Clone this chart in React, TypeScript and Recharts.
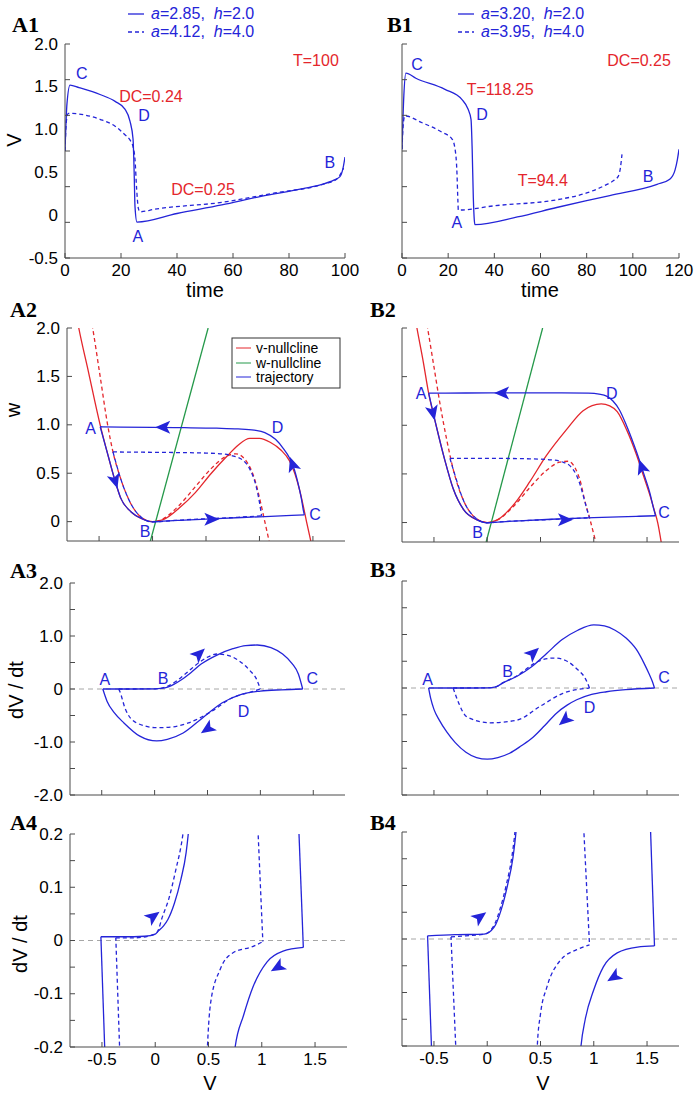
import React from "react";
import { ComposedChart, Line, Scatter, XAxis, YAxis, ReferenceLine } from "recharts";

const BLUE = "#2424d8";
const RED = "#e4262c";
const GREEN = "#25994a";
const FRAME = "#4a4a4a";
const FONT = "'Liberation Sans', Arial, Helvetica, sans-serif";

type Pt = { x: number; y: number };
type Lab = { v: number; t: string };
const pts = (rows: number[][]): Pt[] => rows.map(([x, y]) => ({ x, y }));

// ---------- ticks ----------
const timeTicksA = [0, 20, 40, 60, 80, 100];
const timeTicksB = [0, 20, 40, 60, 80, 100, 120];
const vLabels1: Lab[] = [
  { v: -0.5, t: "-0.5" }, { v: 0, t: "0" }, { v: 0.5, t: "0.5" },
  { v: 1, t: "1.0" }, { v: 1.5, t: "1.5" }, { v: 2, t: "2.0" },
];
const vMarks1 = [-0.5, -0.0833, 0.3333, 0.75, 1.1667, 1.5833, 2];
const phaseTicks = [-0.5, 0, 0.5, 1, 1.5];
const phaseLabels: Lab[] = [
  { v: -0.5, t: "-0.5" }, { v: 0, t: "0" }, { v: 0.5, t: "0.5" }, { v: 1, t: "1" }, { v: 1.5, t: "1.5" },
];
const wTicks = [0, 0.5, 1, 1.5, 2];
const wLabels: Lab[] = [
  { v: 0, t: "0" }, { v: 0.5, t: "0.5" }, { v: 1, t: "1.0" }, { v: 1.5, t: "1.5" }, { v: 2, t: "2.0" },
];
const dv3Ticks = [-2, -1.5, -1, -0.5, 0, 0.5, 1, 1.5, 2];
const dv3Labels: Lab[] = [
  { v: -2, t: "-2.0" }, { v: -1, t: "-1.0" }, { v: 0, t: "0" }, { v: 1, t: "1.0" }, { v: 2, t: "2.0" },
];
const dv4Ticks = [-0.2, -0.15, -0.1, -0.05, 0, 0.05, 0.1, 0.15, 0.2];
const dv4Labels: Lab[] = [
  { v: -0.2, t: "-0.2" }, { v: -0.1, t: "-0.1" }, { v: 0, t: "0" }, { v: 0.1, t: "0.1" }, { v: 0.2, t: "0.2" },
];

// ---------- A1 / B1 : V(t) ----------
const a1Solid = pts([[0,0.75],[0.7,1.3],[1.8,1.52],[5,1.49],[12.5,1.41],[17.9,1.33],[21.4,1.24],[23.2,1.1],[24.3,0.89],[24.7,0.5],[25.0,0.1],[25.7,-0.08],[40,0.02],[56,0.12],[70,0.22],[85,0.31],[91.8,0.36],[96,0.41],[98.2,0.45],[99.3,0.55],[100,0.68]]);
const a1Dash = pts([[0,0.75],[0.5,1.1],[1.2,1.19],[12.5,1.12],[17.9,1.04],[21.4,0.94],[23.2,0.88],[24.3,0.8],[25,0.65],[25.6,0.3],[26.2,0.08],[26.8,0.04],[32,0.07],[56,0.15],[75,0.26],[92,0.36],[97,0.42],[99.5,0.55]]);
const b1Solid = pts([[0,0.77],[0.8,1.4],[1.7,1.66],[6,1.6],[18.6,1.47],[26,1.35],[28.6,1.24],[29.9,1.12],[30.4,0.77],[30.9,0.2],[31.3,-0.05],[31.6,-0.11],[50,-0.02],[67,0.09],[90,0.23],[110.5,0.36],[116,0.42],[118.3,0.53],[119.3,0.65],[120,0.77]]);
const b1Dash = pts([[0,0.77],[0.5,1.05],[1.2,1.16],[8.7,1.08],[17.3,0.97],[21.7,0.89],[23.0,0.77],[23.8,0.5],[24.2,0.18],[24.4,0.06],[40,0.11],[67,0.18],[80,0.26],[88.8,0.36],[92,0.41],[93.6,0.45],[94.6,0.55],[95.3,0.71]]);

const a1Letters = [{ x: 6, y: 1.66, t: "C" }, { x: 28.2, y: 1.17, t: "D" }, { x: 26, y: -0.25, t: "A" }, { x: 94.6, y: 0.61, t: "B" }];
const a1Notes = [{ x: 89.6, y: 1.81, t: "T=100" }, { x: 30.7, y: 1.39, t: "DC=0.24" }, { x: 49.3, y: 0.3, t: "DC=0.25" }];
const b1Letters = [{ x: 6.5, y: 1.76, t: "C" }, { x: 34.7, y: 1.18, t: "D" }, { x: 23.8, y: -0.08, t: "A" }, { x: 106.6, y: 0.45, t: "B" }];
const b1Notes = [{ x: 102.7, y: 1.81, t: "DC=0.25" }, { x: 42.5, y: 1.47, t: "T=118.25" }, { x: 61, y: 0.41, t: "T=94.4" }];

// ---------- A2 / B2 : phase plane (v, w) ----------
const a2RedSolid = pts([[-0.74,2.3],[-0.69,2.0],[-0.6,1.55],[-0.49,1.0],[-0.42,0.7],[-0.35,0.42],[-0.3,0.25],[-0.2,0.1],[-0.1,0.03],[0,0],[0.1,0.02],[0.26,0.15],[0.4,0.3],[0.55,0.5],[0.7,0.68],[0.8,0.79],[0.91,0.86],[1.0,0.86],[1.1,0.82],[1.2,0.74],[1.28,0.63],[1.33,0.5],[1.37,0.35],[1.41,0.16],[1.44,0.0],[1.49,-0.25]]);
const a2RedDash = pts([[-0.6,2.25],[-0.56,2.0],[-0.49,1.5],[-0.42,1.0],[-0.37,0.72],[-0.3,0.45],[-0.2,0.18],[-0.1,0.04],[0,0],[0.1,0.03],[0.25,0.17],[0.4,0.36],[0.55,0.55],[0.68,0.67],[0.78,0.7],[0.88,0.62],[0.96,0.42],[1.01,0.2],[1.05,0.0],[1.1,-0.25]]);
const a2Green = pts([[-0.02,-0.2],[0.52,2.0]]);
const a2TrajTop = pts([[-0.49,0.98],[-0.3,0.977],[0,0.973],[0.3,0.97],[0.6,0.965],[0.8,0.958],[0.95,0.945],[1.05,0.92],[1.15,0.85],[1.22,0.76],[1.28,0.66],[1.32,0.56],[1.36,0.4],[1.39,0.25],[1.41,0.12],[1.42,0.07]]);
const a2TrajBottom = pts([[-0.49,0.98],[-0.42,0.7],[-0.35,0.42],[-0.3,0.25],[-0.2,0.1],[-0.1,0.03],[0,-0.003],[0.1,0.005],[0.3,0.016],[0.6,0.032],[1.0,0.05],[1.3,0.064],[1.42,0.07]]);
const a2DashTop = pts([[-0.37,0.72],[-0.2,0.718],[0.2,0.714],[0.5,0.708],[0.65,0.7],[0.75,0.68],[0.85,0.63],[0.92,0.52],[0.97,0.36],[1.0,0.2],[1.02,0.06]]);
const a2DashBottom = pts([[-0.37,0.72],[-0.3,0.45],[-0.2,0.18],[-0.1,0.04],[0,-0.003],[0.2,0.012],[0.5,0.03],[0.8,0.045],[1.02,0.06]]);
const a2Arrows = [{ x: -0.35, y: 0.42, angle: 73 }, { x: 0.1, y: 0.975, angle: 180 }, { x: 0.55, y: 0.025, angle: 0 }, { x: 1.31, y: 0.59, angle: -109 }];
const a2Letters = [{ x: -0.58, y: 0.96, t: "A" }, { x: 1.17, y: 0.97, t: "D" }, { x: -0.07, y: -0.1, t: "B" }, { x: 1.52, y: 0.07, t: "C" }];

const b2RedSolid = pts([[-0.7,2.25],[-0.66,2.0],[-0.6,1.65],[-0.55,1.33],[-0.48,1.0],[-0.4,0.65],[-0.32,0.35],[-0.22,0.13],[-0.1,0.03],[0,0],[0.1,0.03],[0.26,0.2],[0.4,0.42],[0.55,0.68],[0.74,0.95],[0.9,1.15],[1.07,1.22],[1.15,1.2],[1.22,1.14],[1.31,0.95],[1.4,0.7],[1.47,0.47],[1.53,0.27],[1.57,0.12],[1.6,0.0],[1.64,-0.25]]);
const b2RedDash = pts([[-0.6,2.25],[-0.56,2.0],[-0.5,1.6],[-0.44,1.2],[-0.38,0.85],[-0.32,0.55],[-0.22,0.22],[-0.1,0.04],[0,0],[0.1,0.03],[0.25,0.17],[0.4,0.36],[0.55,0.53],[0.68,0.62],[0.76,0.63],[0.83,0.55],[0.88,0.4],[0.91,0.25],[0.96,0.05],[1.03,-0.25]]);
const b2Green = pts([[-0.01,-0.2],[0.52,2.0]]);
const b2TrajTop = pts([[-0.55,1.33],[-0.2,1.332],[0.3,1.333],[0.7,1.333],[0.95,1.33],[1.05,1.32],[1.12,1.3],[1.18,1.25],[1.24,1.16],[1.31,0.99],[1.4,0.73],[1.47,0.5],[1.53,0.29],[1.56,0.15],[1.58,0.07]]);
const b2TrajBottom = pts([[-0.55,1.33],[-0.48,1.0],[-0.4,0.65],[-0.32,0.35],[-0.22,0.13],[-0.1,0.03],[0,-0.003],[0.1,0.005],[0.3,0.018],[0.6,0.034],[1.0,0.05],[1.4,0.064],[1.58,0.07]]);
const b2DashTop = pts([[-0.35,0.66],[0,0.66],[0.4,0.655],[0.6,0.645],[0.7,0.625],[0.78,0.58],[0.84,0.48],[0.88,0.36],[0.91,0.24],[0.94,0.12],[0.96,0.05]]);
const b2DashBottom = pts([[-0.35,0.66],[-0.32,0.55],[-0.22,0.22],[-0.1,0.04],[0,-0.003],[0.1,0.006],[0.4,0.022],[0.7,0.036],[0.96,0.05]]);
const b2Arrows = [{ x: -0.51, y: 1.13, angle: 77 }, { x: 0.14, y: 1.333, angle: 180 }, { x: 0.73, y: 0.03, angle: 0 }, { x: 1.45, y: 0.57, angle: -109 }];
const b2Letters = [{ x: -0.62, y: 1.33, t: "A" }, { x: 1.17, y: 1.33, t: "D" }, { x: -0.09, y: -0.1, t: "B" }, { x: 1.66, y: 0.1, t: "C" }];

// ---------- A3 / B3 : dV/dt vs V ----------
const a3SolidTop = pts([[-0.49,0],[-0.2,0],[0,0.002],[0.06,0.01],[0.13,0.04],[0.25,0.17],[0.35,0.32],[0.44,0.47],[0.6,0.65],[0.74,0.76],[0.86,0.82],[0.97,0.83],[1.1,0.78],[1.21,0.66],[1.3,0.48],[1.36,0.28],[1.4,0]]);
const a3SolidBottom = pts([[-0.49,0],[-0.45,-0.23],[-0.38,-0.45],[-0.29,-0.64],[-0.14,-0.89],[0.02,-0.98],[0.12,-0.95],[0.27,-0.83],[0.45,-0.55],[0.64,-0.26],[0.82,-0.1],[1.0,-0.04],[1.2,-0.015],[1.4,0]]);
const a3DashTop = pts([[-0.34,0],[0,0.002],[0.06,0.012],[0.12,0.05],[0.2,0.14],[0.3,0.3],[0.42,0.5],[0.5,0.6],[0.59,0.66],[0.7,0.63],[0.8,0.53],[0.9,0.35],[0.96,0.2],[1.0,0]]);
const a3DashBottom = pts([[-0.34,0],[-0.33,-0.04],[-0.28,-0.36],[-0.17,-0.64],[0.02,-0.73],[0.15,-0.72],[0.32,-0.64],[0.54,-0.42],[0.73,-0.17],[0.94,-0.04],[1.0,0]]);
const a3Arrows = [{ x: 0.42, y: 0.66, angle: -43 }, { x: 0.5, y: -0.75, angle: 146 }];
const a3Letters = [{ x: -0.47, y: 0.17, t: "A" }, { x: 0.08, y: 0.2, t: "B" }, { x: 1.49, y: 0.19, t: "C" }, { x: 0.84, y: -0.42, t: "D" }];

const b3SolidTop = pts([[-0.55,0],[-0.2,0],[0,0.002],[0.08,0.02],[0.15,0.1],[0.28,0.22],[0.42,0.4],[0.56,0.65],[0.7,0.9],[0.85,1.08],[1.0,1.18],[1.1,1.16],[1.2,1.08],[1.3,0.94],[1.4,0.72],[1.47,0.47],[1.52,0.26],[1.55,0.12],[1.57,0]]);
const b3SolidBottom = pts([[-0.55,0],[-0.53,-0.2],[-0.5,-0.4],[-0.45,-0.6],[-0.38,-0.82],[-0.3,-1.02],[-0.2,-1.2],[-0.1,-1.3],[0,-1.33],[0.1,-1.3],[0.21,-1.22],[0.32,-1.08],[0.43,-0.92],[0.54,-0.7],[0.65,-0.47],[0.75,-0.32],[0.84,-0.22],[0.98,-0.12],[1.12,-0.07],[1.3,-0.03],[1.57,0]]);
const b3DashTop = pts([[-0.32,0],[0,0.002],[0.08,0.02],[0.15,0.1],[0.28,0.23],[0.45,0.47],[0.52,0.53],[0.63,0.56],[0.75,0.5],[0.85,0.34],[0.92,0.18],[0.96,0]]);
const b3DashBottom = pts([[-0.32,0],[-0.28,-0.22],[-0.19,-0.54],[0.03,-0.65],[0.28,-0.6],[0.49,-0.35],[0.71,-0.1],[0.96,0]]);
const b3Arrows = [{ x: 0.43, y: 0.65, angle: -42 }, { x: 0.73, y: -0.6, angle: 140 }];
const b3Letters = [{ x: -0.56, y: 0.15, t: "A" }, { x: 0.19, y: 0.3, t: "B" }, { x: 1.66, y: 0.19, t: "C" }, { x: 0.96, y: -0.37, t: "D" }];

// ---------- A4 / B4 : close-up near dV/dt = 0 ----------
const a4SolidLeft = pts([[-0.466,-0.25],[-0.51,0.007]]);
const a4SolidUp = pts([[-0.51,0.007],[-0.3,0.007],[-0.1,0.008],[0,0.012],[0.03,0.018],[0.08,0.028],[0.12,0.04],[0.18,0.07],[0.24,0.114],[0.29,0.165],[0.31,0.2],[0.33,0.25]]);
const a4SolidRight = pts([[1.34,0.25],[1.39,-0.013]]);
const a4SolidDown = pts([[0.72,-0.25],[0.75,-0.2],[0.83,-0.14],[0.92,-0.086],[1.05,-0.04],[1.2,-0.02],[1.39,-0.013]]);
const a4DashLeft = pts([[-0.326,-0.25],[-0.37,0.005]]);
const a4DashUp = pts([[-0.37,0.005],[-0.2,0.005],[0,0.012],[0.03,0.02],[0.06,0.04],[0.13,0.08],[0.19,0.13],[0.26,0.2],[0.29,0.25]]);
const a4DashRight = pts([[0.955,0.25],[1.01,-0.002]]);
const a4DashDown = pts([[0.48,-0.25],[0.49,-0.2],[0.52,-0.117],[0.61,-0.054],[0.73,-0.023],[0.92,-0.011],[1.01,-0.002]]);
const a4Arrows = [{ x: -0.02, y: 0.045, angle: -36 }, { x: 1.15, y: -0.05, angle: 150 }];

const b4SolidLeft = pts([[-0.515,-0.25],[-0.56,0.006]]);
const b4SolidUp = pts([[-0.56,0.006],[-0.3,0.008],[-0.03,0.009],[0.065,0.022],[0.13,0.054],[0.19,0.1],[0.24,0.15],[0.27,0.2],[0.29,0.25]]);
const b4SolidRight = pts([[1.525,0.25],[1.57,-0.013]]);
const b4SolidDown = pts([[0.86,-0.25],[0.88,-0.2],[0.92,-0.15],[1.0,-0.095],[1.09,-0.052],[1.22,-0.026],[1.41,-0.015],[1.57,-0.013]]);
const b4DashLeft = pts([[-0.285,-0.25],[-0.34,0.004]]);
const b4DashUp = pts([[-0.34,0.004],[-0.2,0.006],[-0.03,0.009],[0.06,0.024],[0.12,0.056],[0.18,0.102],[0.23,0.152],[0.26,0.2],[0.28,0.25]]);
const b4DashRight = pts([[0.895,0.25],[0.96,-0.011]]);
const b4DashDown = pts([[0.46,-0.25],[0.47,-0.2],[0.5,-0.14],[0.56,-0.09],[0.69,-0.039],[0.84,-0.02],[0.96,-0.011]]);
const b4Arrows = [{ x: -0.07, y: 0.041, angle: -36 }, { x: 1.19, y: -0.071, angle: 148 }];

// ---------- rendering helpers ----------
const near = (list: number[], v: number) => list.some((t) => Math.abs(t - v) < 1e-6);
const labelOf = (list: Lab[] | undefined, v: number) =>
  list ? list.find((l) => Math.abs(l.v - v) < 1e-6)?.t : undefined;

// MATLAB-like frame: tick marks point inward on every side
function tickRenderer(side: string, marks: number[], labels?: Lab[]) {
  return (props: any) => {
    const { x, y, payload } = props;
    const v = payload.value;
    const m = near(marks, v);
    const t = labelOf(labels, v);
    const L = 5;
    let ln: any = null;
    let tx: any = null;
    if (side === "bottom") {
      if (m) ln = <line x1={x} y1={y} x2={x} y2={y - L} stroke={FRAME} />;
      if (t) tx = <text x={x} y={y + 12} textAnchor="middle" dominantBaseline="central">{t}</text>;
    } else if (side === "top") {
      if (m) ln = <line x1={x} y1={y} x2={x} y2={y + L} stroke={FRAME} />;
    } else if (side === "left") {
      if (m) ln = <line x1={x} y1={y} x2={x + L} y2={y} stroke={FRAME} />;
      if (t) tx = <text x={x - 7} y={y} textAnchor="end" dominantBaseline="central">{t}</text>;
    } else {
      if (m) ln = <line x1={x} y1={y} x2={x - L} y2={y} stroke={FRAME} />;
    }
    return (
      <g fontFamily={FONT} fontSize={17} fill="#000">
        {ln}
        {tx}
      </g>
    );
  };
}

const arrowShape = (p: any) => (
  <polygon
    points="8,0 -7,-6.5 -3.5,0 -7,6.5"
    transform={`translate(${p.cx},${p.cy}) rotate(${p.payload.angle})`}
    fill={BLUE}
  />
);
const textShape = (color: string) => (p: any) => (
  <text x={p.cx} y={p.cy} textAnchor="middle" dominantBaseline="central" fill={color} fontFamily={FONT} fontSize={16}>
    {p.payload.t}
  </text>
);

type Series = { data: Pt[]; color: string; dashed?: boolean };
interface PanelProps {
  left: number; top: number; width: number; height: number;
  xDomain: [number, number]; yDomain: [number, number];
  xMarks: number[]; xLabels?: Lab[];
  yMarks: number[]; yLabels?: Lab[];
  series: Series[];
  arrows?: any[]; letters?: any[]; notes?: any[];
  zero?: boolean;
}

function Panel(p: PanelProps) {
  const ML = 50, MB = 30, MT = 14, MR = 22;
  const union = (a: number[], b?: Lab[]) =>
    Array.from(new Set([...a, ...(b ? b.map((l) => l.v) : [])])).sort((m, n) => m - n);
  return (
    <div style={{ position: "absolute", left: p.left - ML, top: p.top - MT }}>
      <ComposedChart
        width={p.width + ML + MR}
        height={p.height + MT + MB}
        margin={{ top: MT, right: MR, bottom: 0, left: 0 }}
      >
        <XAxis dataKey="x" type="number" domain={p.xDomain} ticks={union(p.xMarks, p.xLabels)} interval={0}
          allowDataOverflow height={MB} tickSize={0} tickMargin={0} tickLine={false}
          axisLine={{ stroke: FRAME }} tick={tickRenderer("bottom", p.xMarks, p.xLabels)} />
        <XAxis xAxisId="top" orientation="top" type="number" domain={p.xDomain} ticks={p.xMarks} interval={0}
          allowDataOverflow height={0} tickSize={0} tickMargin={0} tickLine={false}
          axisLine={{ stroke: FRAME }} tick={tickRenderer("top", p.xMarks)} />
        <YAxis dataKey="y" type="number" domain={p.yDomain} ticks={union(p.yMarks, p.yLabels)} interval={0}
          allowDataOverflow width={ML} tickSize={0} tickMargin={0} tickLine={false}
          axisLine={{ stroke: FRAME }} tick={tickRenderer("left", p.yMarks, p.yLabels)} />
        <YAxis yAxisId="right" orientation="right" type="number" domain={p.yDomain} ticks={p.yMarks} interval={0}
          allowDataOverflow width={0} tickSize={0} tickMargin={0} tickLine={false}
          axisLine={{ stroke: FRAME }} tick={tickRenderer("right", p.yMarks)} />
        {p.zero && <ReferenceLine y={0} stroke="#a6a6a6" strokeDasharray="5 4" />}
        {p.series.map((s, i) => (
          <Line key={i} data={s.data} dataKey="y" type="monotone" stroke={s.color} strokeWidth={1.3}
            strokeDasharray={s.dashed ? "4 3" : undefined} dot={false} activeDot={false}
            isAnimationActive={false} />
        ))}
        {p.arrows && <Scatter data={p.arrows} shape={arrowShape} isAnimationActive={false} />}
        {p.letters && <Scatter data={p.letters} shape={textShape(BLUE)} isAnimationActive={false} />}
        {p.notes && <Scatter data={p.notes} shape={textShape(RED)} isAnimationActive={false} />}
      </ComposedChart>
    </div>
  );
}

const PH: [number, number] = [-0.8, 1.8];
const solid = (data: Pt[], color = BLUE): Series => ({ data, color });
const dashed = (data: Pt[], color = BLUE): Series => ({ data, color, dashed: true });

export default function App() {
  const labelStyle = { fontFamily: "'Liberation Serif', 'Times New Roman', serif", fontWeight: 700, fontSize: 22 };
  const legendRows = [
    { x: 128, y: 13, a: "2.85", h: "2.0", dashed: false },
    { x: 128, y: 31, a: "4.12", h: "4.0", dashed: true },
    { x: 458, y: 13, a: "3.20", h: "2.0", dashed: false },
    { x: 458, y: 31, a: "3.95", h: "4.0", dashed: true },
  ];
  return (
    <div style={{ position: "absolute", left: 0, top: 0, width: 695, height: 1097, background: "#fff" }}>
      <Panel left={65} top={44} width={280} height={214} xDomain={[0, 100]} yDomain={[-0.5, 2]}
        xMarks={timeTicksA} xLabels={timeTicksA.map((v) => ({ v, t: String(v) }))}
        yMarks={vMarks1} yLabels={vLabels1}
        series={[dashed(a1Dash), solid(a1Solid)]}
        letters={a1Letters} notes={a1Notes} />
      <Panel left={402} top={44} width={277} height={214} xDomain={[0, 120]} yDomain={[-0.5, 2]}
        xMarks={timeTicksB} xLabels={timeTicksB.map((v) => ({ v, t: String(v) }))}
        yMarks={vMarks1}
        series={[dashed(b1Dash), solid(b1Solid)]}
        letters={b1Letters} notes={b1Notes} />

      <Panel left={67} top={328} width={278} height={213} xDomain={PH} yDomain={[-0.2, 2]}
        xMarks={phaseTicks} yMarks={wTicks} yLabels={wLabels}
        series={[
          solid(a2RedSolid, RED), dashed(a2RedDash, RED), solid(a2Green, GREEN),
          dashed(a2DashTop), dashed(a2DashBottom), solid(a2TrajTop), solid(a2TrajBottom),
        ]}
        arrows={a2Arrows} letters={a2Letters} />
      <Panel left={402} top={328} width={277} height={214} xDomain={PH} yDomain={[-0.2, 2]}
        xMarks={phaseTicks} yMarks={wTicks}
        series={[
          solid(b2RedSolid, RED), dashed(b2RedDash, RED), solid(b2Green, GREEN),
          dashed(b2DashTop), dashed(b2DashBottom), solid(b2TrajTop), solid(b2TrajBottom),
        ]}
        arrows={b2Arrows} letters={b2Letters} />

      <Panel left={70} top={583} width={275} height={212} xDomain={PH} yDomain={[-2, 2]}
        xMarks={phaseTicks} yMarks={dv3Ticks} yLabels={dv3Labels} zero
        series={[dashed(a3DashTop), dashed(a3DashBottom), solid(a3SolidTop), solid(a3SolidBottom)]}
        arrows={a3Arrows} letters={a3Letters} />
      <Panel left={402} top={581} width={277} height={214} xDomain={PH} yDomain={[-2, 2]}
        xMarks={phaseTicks} yMarks={dv3Ticks} zero
        series={[dashed(b3DashTop), dashed(b3DashBottom), solid(b3SolidTop), solid(b3SolidBottom)]}
        arrows={b3Arrows} letters={b3Letters} />

      <Panel left={70} top={834} width={277} height={213} xDomain={PH} yDomain={[-0.2, 0.2]}
        xMarks={phaseTicks} xLabels={phaseLabels} yMarks={dv4Ticks} yLabels={dv4Labels} zero
        series={[
          dashed(a4DashLeft), dashed(a4DashUp), dashed(a4DashRight), dashed(a4DashDown),
          solid(a4SolidLeft), solid(a4SolidUp), solid(a4SolidRight), solid(a4SolidDown),
        ]}
        arrows={a4Arrows} />
      <Panel left={402} top={832} width={277} height={214} xDomain={PH} yDomain={[-0.2, 0.2]}
        xMarks={phaseTicks} xLabels={phaseLabels} yMarks={dv4Ticks} zero
        series={[
          dashed(b4DashLeft), dashed(b4DashUp), dashed(b4DashRight), dashed(b4DashDown),
          solid(b4SolidLeft), solid(b4SolidUp), solid(b4SolidRight), solid(b4SolidDown),
        ]}
        arrows={b4Arrows} />

      <svg width={695} height={1097} style={{ position: "absolute", left: 0, top: 0, pointerEvents: "none" }}>
        <g style={labelStyle}>
          <text x={12} y={32}>A1</text>
          <text x={387} y={32}>B1</text>
          <text x={10} y={317}>A2</text>
          <text x={370} y={317}>B2</text>
          <text x={10} y={578}>A3</text>
          <text x={370} y={577}>B3</text>
          <text x={10} y={830}>A4</text>
          <text x={370} y={830}>B4</text>
        </g>
        <g fontFamily={FONT} fontSize={20} textAnchor="middle" dominantBaseline="central">
          <text x={205} y={290}>time</text>
          <text x={540} y={290}>time</text>
          <text x={210} y={1083}>V</text>
          <text x={543} y={1083}>V</text>
          <text x={14} y={140} transform="rotate(-90 14 140)">V</text>
          <text x={13} y={410} transform="rotate(-90 13 410)">w</text>
          <text x={16} y={690} transform="rotate(-90 16 690)">dV / dt</text>
          <text x={20} y={944} transform="rotate(-90 20 944)">dV / dt</text>
        </g>
        <g fontFamily={FONT} fontSize={16} fill={BLUE}>
          {legendRows.map((r, i) => (
            <g key={i}>
              <line x1={r.x} y1={r.y + 1} x2={r.x + 16} y2={r.y + 1} stroke={BLUE} strokeWidth={1.3}
                strokeDasharray={r.dashed ? "4 3" : undefined} />
              <text x={r.x + 23} y={r.y} dominantBaseline="central">
                <tspan fontStyle="italic">a</tspan>={r.a},{"\u00a0\u00a0"}<tspan fontStyle="italic">h</tspan>={r.h}
              </text>
            </g>
          ))}
        </g>
        <g fontFamily={FONT} fontSize={14}>
          <rect x={232} y={338} width={108} height={50} fill="#fff" stroke="#333" />
          <line x1={236} y1={348} x2={251} y2={348} stroke={RED} />
          <text x={256} y={348} dominantBaseline="central">v-nullcline</text>
          <line x1={236} y1={363} x2={251} y2={363} stroke={GREEN} />
          <text x={256} y={363} dominantBaseline="central">w-nullcline</text>
          <line x1={236} y1={377} x2={251} y2={377} stroke={BLUE} />
          <text x={256} y={377} dominantBaseline="central">trajectory</text>
        </g>
      </svg>
    </div>
  );
}
